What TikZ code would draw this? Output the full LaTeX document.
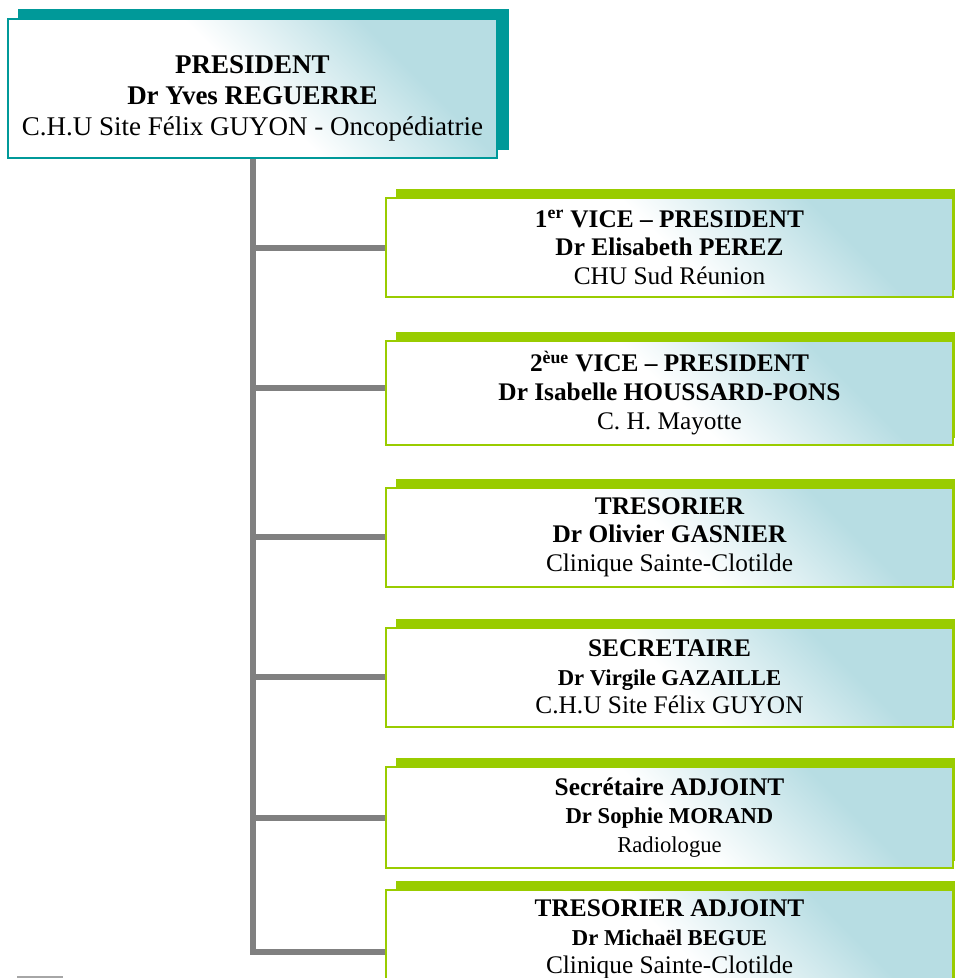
\documentclass[tikz,border=0pt]{standalone}
\usepackage{amsmath}
\usepackage{xcolor}
\usepackage{fontspec}
\setmainfont{Liberation Serif}
\usepackage{tikz}
\usetikzlibrary{backgrounds}

\definecolor{tealframe}{RGB}{0,153,153}
\definecolor{greenframe}{RGB}{153,204,0}
\definecolor{boxtint}{RGB}{183,221,227}
\definecolor{linkgray}{RGB}{128,128,128}

\pgfdeclareverticalshading{tintshade}{100bp}{color(0bp)=(white); color(50bp)=(white); color(70bp)=(boxtint); color(100bp)=(boxtint)}

\newcommand{\namesmall}[1]{{\fontsize{17}{21.5}\selectfont #1}}

\begin{document}
\begin{tikzpicture}[x=0.75pt,y=0.75pt,yscale=-1,xscale=1,
    tintfill/.style={shade, shading=tintshade, shading angle=-45},
    presbox/.style={tintfill, draw=tealframe, line width=1.5, minimum width=366.75pt, minimum height=104.25pt, inner sep=0pt},
    rolebox/.style={tintfill, draw=greenframe, line width=1.5, minimum width=425.25pt, minimum height=74.25pt, inner sep=0pt, align=center, font=\fontsize{19}{21.5}\selectfont},
    link/.style={draw=linkgray, line width=4.5}]
        \useasboundingbox (0,0) rectangle (955,978);
        \clip (0,0) rectangle (955,978);
        % President box
        \node[presbox] (pres) at (252.5,88.5) {};
        % Text Node
        \node[align=center, inner sep=0pt, font=\fontsize{20.25}{23.25}\selectfont] (prestext) at (252.5,98) {{\bfseries PRESIDENT}\\{\bfseries Dr Yves REGUERRE}\\C.H.U Site Félix GUYON - Oncopédiatrie};
        % Role boxes
        \node[rolebox] (vp1) at (669.5,247.5) {{\bfseries 1\textsuperscript{er} VICE – PRESIDENT}\\{\bfseries Dr Elisabeth PEREZ}\\CHU Sud Réunion};
        \node[rolebox, minimum height=78pt] (vp2) at (669.5,393) {{\bfseries 2\textsuperscript{èue} VICE – PRESIDENT}\\{\bfseries Dr Isabelle HOUSSARD-PONS}\\C. H. Mayotte};
        \node[rolebox] (treso) at (669.5,537) {{\bfseries TRESORIER}\\{\bfseries Dr Olivier GASNIER}\\Clinique Sainte-Clotilde};
        \node[rolebox] (secr) at (669.5,677) {{\bfseries SECRETAIRE}\\\namesmall{\bfseries Dr Virgile GAZAILLE}\\C.H.U Site Félix GUYON};
        \node[rolebox, minimum height=75.75pt] (secadj) at (669.5,817.5) {{\bfseries Secrétaire ADJOINT}\\\namesmall{\bfseries Dr Sophie MORAND}\\\namesmall{Radiologue}};
        \node[rolebox] (tresadj) at (669.5,939.5) {{\bfseries TRESORIER ADJOINT}\\\namesmall{\bfseries Dr Michaël BEGUE}\\Clinique Sainte-Clotilde};
        % Shadows
        \begin{scope}[on background layer]
        \fill[tealframe] ([shift={(11,-9)}]pres.south west) rectangle ([shift={(11,-9)}]pres.north east);
        \fill[greenframe] ([shift={(11,-8)}]vp1.south west) rectangle ([shift={(11,-8)}]vp1.north east);
        \fill[greenframe] ([shift={(11,-8)}]vp2.south west) rectangle ([shift={(11,-8)}]vp2.north east);
        \fill[greenframe] ([shift={(11,-8)}]treso.south west) rectangle ([shift={(11,-8)}]treso.north east);
        \fill[greenframe] ([shift={(11,-8)}]secr.south west) rectangle ([shift={(11,-8)}]secr.north east);
        \fill[greenframe] ([shift={(11,-8)}]secadj.south west) rectangle ([shift={(11,-8)}]secadj.north east);
        \fill[greenframe] ([shift={(11,-8)}]tresadj.south west) rectangle ([shift={(11,-8)}]tresadj.north east);
        \end{scope}
        % Connectors
        \coordinate (foot) at (252.5,952);
        \draw[link] (pres.south) -- (foot) -- (foot -| tresadj.west);
        \draw[link] (pres.south |- vp1.west) -- (vp1.west);
        \draw[link] ([yshift=-3.75pt]pres.south |- vp2.west) -- ([yshift=-3.75pt]vp2.west);
        \draw[link] (pres.south |- treso.west) -- (treso.west);
        \draw[link] (pres.south |- secr.west) -- (secr.west);
        \draw[link] (pres.south |- secadj.west) -- (secadj.west);
        %Straight Lines
        \draw[linkgray!70, line width=1] (17,977) -- (63,977);
\end{tikzpicture}
\end{document}
